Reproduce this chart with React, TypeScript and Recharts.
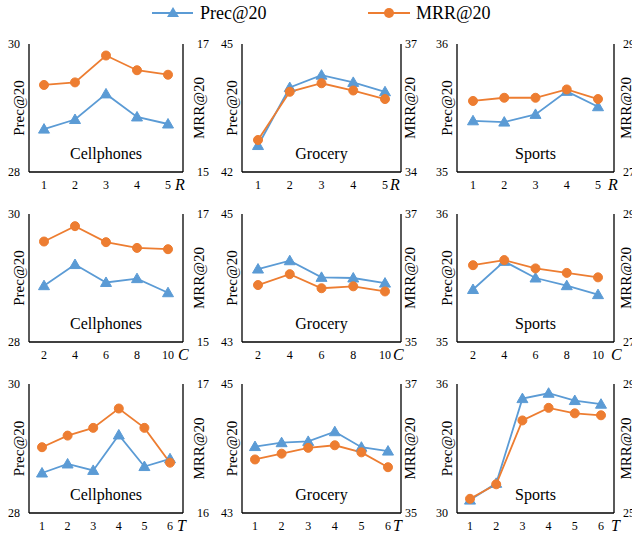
import React from 'react';
import { LineChart, Line, XAxis, YAxis, Label } from 'recharts';

const FONT = '"Liberation Serif", "Times New Roman", serif';
const BLUE = '#5B9BD5';
const ORANGE = '#ED7D31';

// parameter values on x
const rValues = [1, 2, 3, 4, 5];
const cValues = [2, 4, 6, 8, 10];
const tValues = [1, 2, 3, 4, 5, 6];

// row R
const cellphonesRPrec = [28.67, 28.82, 29.22, 28.86, 28.75];
const cellphonesRMrr = [16.36, 16.4, 16.82, 16.59, 16.52];
const groceryRPrec = [42.62, 43.98, 44.27, 44.1, 43.88];
const groceryRMrr = [34.75, 35.88, 36.08, 35.91, 35.71];
const sportsRPrec = [35.4, 35.39, 35.45, 35.63, 35.51];
const sportsRMrr = [28.11, 28.16, 28.16, 28.29, 28.14];

// row C
const cellphonesCPrec = [28.88, 29.21, 28.93, 28.99, 28.77];
const cellphonesCMrr = [16.57, 16.81, 16.56, 16.47, 16.45];
const groceryCPrec = [44.14, 44.27, 44.01, 44.0, 43.92];
const groceryCMrr = [35.89, 36.06, 35.84, 35.87, 35.79];
const sportsCPrec = [35.41, 35.63, 35.5, 35.44, 35.37];
const sportsCMrr = [28.2, 28.28, 28.15, 28.08, 28.01];

// row T
const cellphonesTPrec = [28.62, 28.76, 28.66, 29.21, 28.72, 28.84];
const cellphonesTMrr = [16.51, 16.6, 16.66, 16.81, 16.66, 16.39];
const groceryTPrec = [44.03, 44.09, 44.11, 44.26, 44.02, 43.96];
const groceryTMrr = [35.83, 35.92, 36.01, 36.05, 35.94, 35.71];
const sportsTPrec = [30.6, 31.38, 35.32, 35.57, 35.23, 35.06];
const sportsTMrr = [25.44, 25.89, 27.87, 28.26, 28.09, 28.03];

const cols = [
  { left: 0, plotLeft: 29, plotRight: 183, cellRight: 215, rGap: 14, rLabel: 16, letterGap: 4 },
  { left: 215, plotLeft: 242, plotRight: 401, cellRight: 425, rGap: 4, rLabel: 9, letterGap: 2 },
  { left: 425, plotLeft: 457, plotRight: 614, cellRight: 670, rGap: 9, rLabel: 12, letterGap: 7 },
];
const rows = [
  { top: 44, h: 128 },
  { top: 214, h: 128 },
  { top: 384, h: 129 },
];

interface Panel {
  name: string;
  letter: string;
  xs: number[];
  prec: number[];
  mrr: number[];
  precDomain: [number, number];
  mrrDomain: [number, number];
}

const panels: Panel[][] = [
  [
    { name: 'Cellphones', letter: 'R', xs: rValues, prec: cellphonesRPrec, mrr: cellphonesRMrr, precDomain: [28, 30], mrrDomain: [15, 17] },
    { name: 'Grocery', letter: 'R', xs: rValues, prec: groceryRPrec, mrr: groceryRMrr, precDomain: [42, 45], mrrDomain: [34, 37] },
    { name: 'Sports', letter: 'R', xs: rValues, prec: sportsRPrec, mrr: sportsRMrr, precDomain: [35, 36], mrrDomain: [27, 29] },
  ],
  [
    { name: 'Cellphones', letter: 'C', xs: cValues, prec: cellphonesCPrec, mrr: cellphonesCMrr, precDomain: [28, 30], mrrDomain: [15, 17] },
    { name: 'Grocery', letter: 'C', xs: cValues, prec: groceryCPrec, mrr: groceryCMrr, precDomain: [43, 45], mrrDomain: [35, 37] },
    { name: 'Sports', letter: 'C', xs: cValues, prec: sportsCPrec, mrr: sportsCMrr, precDomain: [35, 36], mrrDomain: [27, 29] },
  ],
  [
    { name: 'Cellphones', letter: 'T', xs: tValues, prec: cellphonesTPrec, mrr: cellphonesTMrr, precDomain: [28, 30], mrrDomain: [16, 17] },
    { name: 'Grocery', letter: 'T', xs: tValues, prec: groceryTPrec, mrr: groceryTMrr, precDomain: [43, 45], mrrDomain: [35, 37] },
    { name: 'Sports', letter: 'T', xs: tValues, prec: sportsTPrec, mrr: sportsTMrr, precDomain: [30, 36], mrrDomain: [25, 29] },
  ],
];

const Triangle = (props: any) => {
  const { cx, cy, index } = props;
  if (cx == null || cy == null) return <g key={`t-${index}`} />;
  return (
    <path
      key={`t-${index}`}
      d={`M${cx},${cy - 5.5} L${cx + 5.5},${cy + 4} L${cx - 5.5},${cy + 4} Z`}
      fill={BLUE}
      stroke={BLUE}
    />
  );
};

const PanelChart = ({ p, col, row }: { p: Panel; col: typeof cols[0]; row: typeof rows[0] }) => {
  const data = p.xs.map((x, i) => ({ x, prec: p.prec[i], mrr: p.mrr[i] }));
  const width = col.cellRight - col.left;
  const height = 14 + row.h + 30;
  const leftW = col.plotLeft - col.left;
  const rightW = col.cellRight - col.plotRight;
  const n = data.length;
  // half a band on each side, like Excel's category axis
  const pad = Math.round((col.plotRight - col.plotLeft) / n / 2);

  const xTick = (props: any) => {
    const { x, y, payload, index } = props;
    const label = String(payload.value);
    return (
      <g key={`xt-${index}`}>
        <text x={x} y={y} dy="0.71em" textAnchor="middle" fontSize={12} fontFamily={FONT} fill="#000">
          {label}
        </text>
        {index === n - 1 && (
          <text
            x={x + label.length * 3 + col.letterGap}
            y={y}
            dy="0.62em"
            textAnchor="start"
            fontSize={16}
            fontStyle="italic"
            fontFamily={FONT}
            fill="#000"
          >
            {p.letter}
          </text>
        )}
      </g>
    );
  };

  return (
    <div style={{ position: 'absolute', left: col.left, top: row.top - 14, width, height }}>
      <LineChart width={width} height={height} data={data} margin={{ top: 14, right: 0, bottom: 0, left: 0 }}>
        <XAxis
          dataKey="x"
          type="category"
          interval={0}
          padding={{ left: pad, right: pad }}
          tickLine={false}
          tickSize={0}
          tickMargin={8}
          height={30}
          axisLine={{ stroke: '#000', strokeWidth: 1.3 }}
          tick={xTick}
        />
        <XAxis
          xAxisId="top"
          dataKey="x"
          orientation="top"
          height={0}
          tick={false}
          tickLine={false}
          axisLine={{ stroke: '#000', strokeWidth: 1.3 }}
        />
        <YAxis
          yAxisId="left"
          type="number"
          domain={p.precDomain}
          ticks={p.precDomain}
          interval={0}
          width={leftW}
          tickLine={false}
          tickSize={0}
          tickMargin={9}
          axisLine={{ stroke: '#000', strokeWidth: 1.3 }}
          tick={{ fontSize: 12, fontFamily: FONT, fill: '#000' }}
        >
          <Label
            content={(lp: any) => {
              const vb = lp.viewBox;
              const cx = vb.x + vb.width - 10;
              const cy = vb.y + vb.height / 2;
              return (
                <text
                  x={cx}
                  y={cy}
                  transform={`rotate(-90, ${cx}, ${cy})`}
                  textAnchor="middle"
                  dominantBaseline="central"
                  fontSize={15}
                  fontFamily={FONT}
                  fill="#000"
                >
                  Prec@20
                </text>
              );
            }}
          />
        </YAxis>
        <YAxis
          yAxisId="right"
          orientation="right"
          type="number"
          domain={p.mrrDomain}
          ticks={p.mrrDomain}
          interval={0}
          width={rightW}
          tickLine={false}
          tickSize={0}
          tickMargin={col.rGap}
          axisLine={{ stroke: '#000', strokeWidth: 1.3 }}
          tick={{ fontSize: 12, fontFamily: FONT, fill: '#000' }}
        >
          <Label
            content={(lp: any) => {
              const vb = lp.viewBox;
              const cx = vb.x + col.rLabel;
              const cy = vb.y + vb.height / 2;
              return (
                <text
                  x={cx}
                  y={cy}
                  transform={`rotate(-90, ${cx}, ${cy})`}
                  textAnchor="middle"
                  dominantBaseline="central"
                  fontSize={15}
                  fontFamily={FONT}
                  fill="#000"
                >
                  MRR@20
                </text>
              );
            }}
          />
        </YAxis>
        <Line
          yAxisId="left"
          dataKey="prec"
          stroke={BLUE}
          strokeWidth={1.8}
          dot={Triangle}
          activeDot={false}
          isAnimationActive={false}
        />
        <Line
          yAxisId="right"
          dataKey="mrr"
          stroke={ORANGE}
          strokeWidth={1.8}
          dot={{ r: 4.5, fill: ORANGE, stroke: ORANGE, strokeWidth: 1 }}
          activeDot={false}
          isAnimationActive={false}
        />
      </LineChart>
      <div
        style={{
          position: 'absolute',
          left: col.plotLeft - col.left,
          width: col.plotRight - col.plotLeft,
          top: 14 + row.h - 29,
          height: 22,
          lineHeight: '22px',
          textAlign: 'center',
          fontFamily: FONT,
          fontSize: 16,
          color: '#000',
          pointerEvents: 'none',
        }}
      >
        {p.name}
      </div>
    </div>
  );
};

const TopLegend = () => (
  <svg width={632} height={28} style={{ position: 'absolute', left: 0, top: 0 }}>
    <line x1={152} y1={13} x2={193} y2={13} stroke={BLUE} strokeWidth={1.8} />
    <path d="M173,7 L179,17 L167,17 Z" fill={BLUE} />
    <text x={200} y={13} dominantBaseline="central" fontSize={18} fontFamily={FONT} fill="#000">
      Prec@20
    </text>
    <line x1={368} y1={13} x2={410} y2={13} stroke={ORANGE} strokeWidth={1.8} />
    <circle cx={389} cy={13} r={5} fill={ORANGE} />
    <text x={416} y={13} dominantBaseline="central" fontSize={18} fontFamily={FONT} fill="#000">
      MRR@20
    </text>
  </svg>
);

export default function App() {
  return (
    <div
      style={{
        position: 'absolute',
        left: 0,
        top: 0,
        width: 632,
        height: 535,
        overflow: 'hidden',
        background: '#fff',
        fontFamily: FONT,
      }}
    >
      <TopLegend />
      {panels.map((rowPanels, ri) =>
        rowPanels.map((p, ci) => (
          <PanelChart key={`${ri}-${ci}`} p={p} col={cols[ci]} row={rows[ri]} />
        ))
      )}
    </div>
  );
}
